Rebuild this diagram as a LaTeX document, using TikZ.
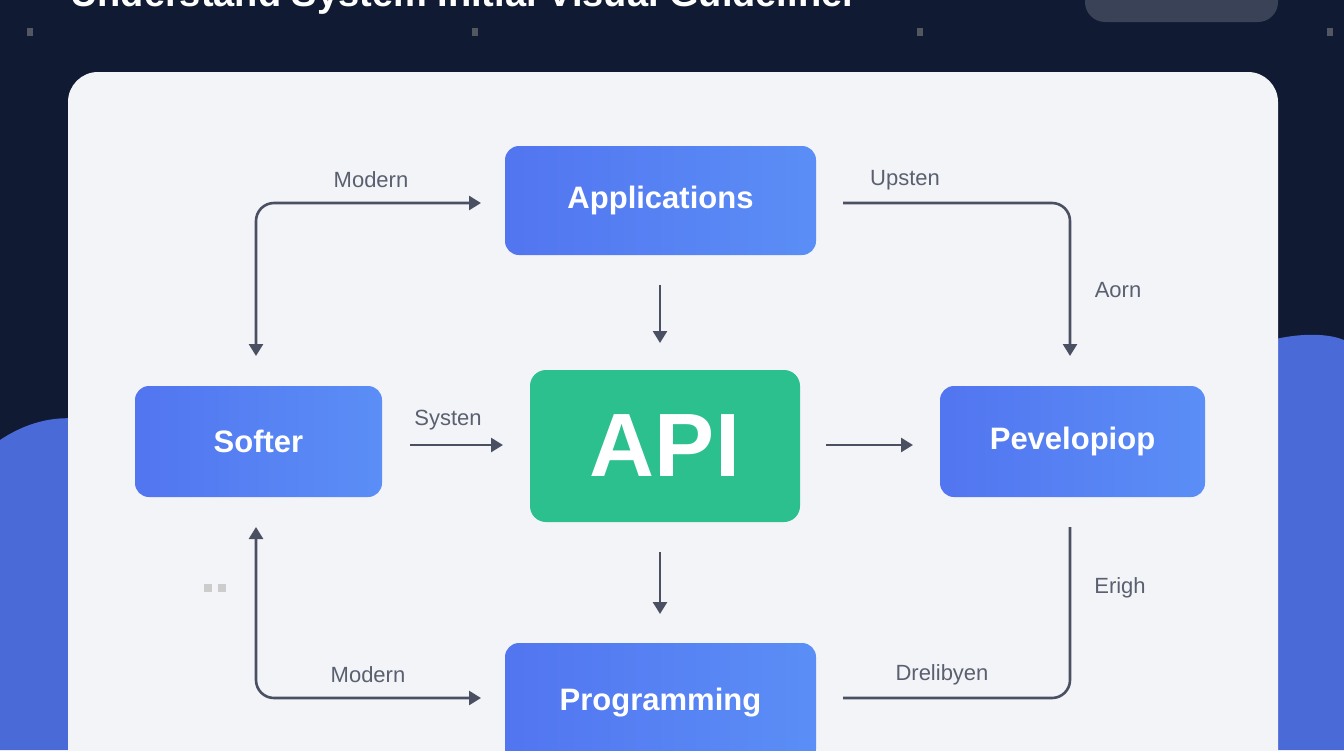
\documentclass[tikz,border=0pt]{standalone}
\usepackage{fontspec}
\setmainfont{Liberation Sans}
\usetikzlibrary{arrows.meta}
\definecolor{navy}{HTML}{111A33}
\definecolor{card}{HTML}{F3F4F8}
\definecolor{bluebox}{HTML}{5275F0}
\definecolor{blueboxb}{HTML}{5B8EF6}
\definecolor{greenbox}{HTML}{2CC08F}
\definecolor{conn}{HTML}{4A5062}
\definecolor{lbl}{HTML}{5A6070}
\definecolor{blob}{HTML}{4A6AD8}
\definecolor{pill}{HTML}{3A4258}
\begin{document}
\begin{tikzpicture}[x=1pt,y=-1pt,
  box/.style={rounded corners=14pt,left color=bluebox,right color=blueboxb,text=white,font=\bfseries\fontsize{31}{36}\selectfont,inner sep=0pt},
  ar/.style={draw=conn,line width=2.6pt,-{Triangle[length=12pt,width=14pt]},rounded corners=18pt},
  ln/.style={draw=conn,line width=2.6pt,rounded corners=18pt},
  lb/.style={text=lbl,font=\fontsize{22}{26}\selectfont}]
\useasboundingbox (0,0) rectangle (1344,750);
\clip (0,0) rectangle (1344,750);
\fill[navy] (0,0) rectangle (1344,750);
\fill[blob] (0,440) .. controls (60,400) and (120,420) .. (160,460) -- (160,750) -- (0,750) -- cycle;
\fill[blob] (1180,380) .. controls (1260,330) and (1320,330) .. (1344,340) -- (1344,750) -- (1180,750) -- cycle;
\node[anchor=north west,text=white,font=\bfseries\fontsize{38}{44}\selectfont,inner sep=0pt] (title) at (70,-21) {Understand System Initial Visual Guideliner};
\fill[pill,rounded corners=20pt] (1085,-30) rectangle (1278,22);
\fill[card,rounded corners=30pt] (68,72) rectangle (1278,800);
\foreach \x in {30,475,920,1330}{\fill[gray!60!navy] (\x-3,28) rectangle (\x+3,36);}
\fill[gray!40] (204,584) rectangle (212,592);
\fill[gray!40] (218,584) rectangle (226,592);
\node[box,minimum width=311pt,minimum height=109pt] (app) at (660.5,200.5) {Applications};
\node[box,minimum width=247pt,minimum height=111pt] (soft) at (258.5,441.5) {Softer};
\node[box,minimum width=265pt,minimum height=111pt] (dev) at (1072.5,441.5) {Pevelopiop};
\node[box,minimum width=311pt,minimum height=120pt] (prog) at (660.5,703) {Programming};
\node[rounded corners=16pt,fill=greenbox,text=white,font=\bfseries\fontsize{90}{100}\selectfont,minimum width=270pt,minimum height=152pt,inner sep=0pt] (api) at (665,446) {API};
\coordinate (tl) at (256,203);
\coordinate (tr) at (1070,203);
\coordinate (bl) at (256,698);
\coordinate (br) at (1070,698);
\draw[ar,{Triangle[length=12pt,width=14pt]}-{Triangle[length=12pt,width=14pt]}] (256,356) -- (tl) -- (481,203);
\draw[ar] (843,203) -- (tr) -- (1070,356);
\draw[ar,{Triangle[length=12pt,width=14pt]}-{Triangle[length=12pt,width=14pt]}] (256,527) -- (bl) -- (481,698);
\draw[ln] (843,698) -- (br) -- (1070,527);
\draw[ar] (660,285) -- (660,343);
\draw[ar] (660,552) -- (660,614);
\draw[ar] (410,445) -- (503,445);
\draw[ar] (826,445) -- (913,445);
\node[lb] (l1) at (371,180) {Modern};
\node[lb] (l2) at (905,180) {Upsten};
\node[lb] (l3) at (1118,290) {Aorn};
\node[lb] (l4) at (448,420) {Systen};
\node[lb] (l5) at (368,675) {Modern};
\node[lb] (l6) at (942,675) {Drelibyen};
\node[lb] (l7) at (1120,588) {Erigh};
\end{tikzpicture}
\end{document}
